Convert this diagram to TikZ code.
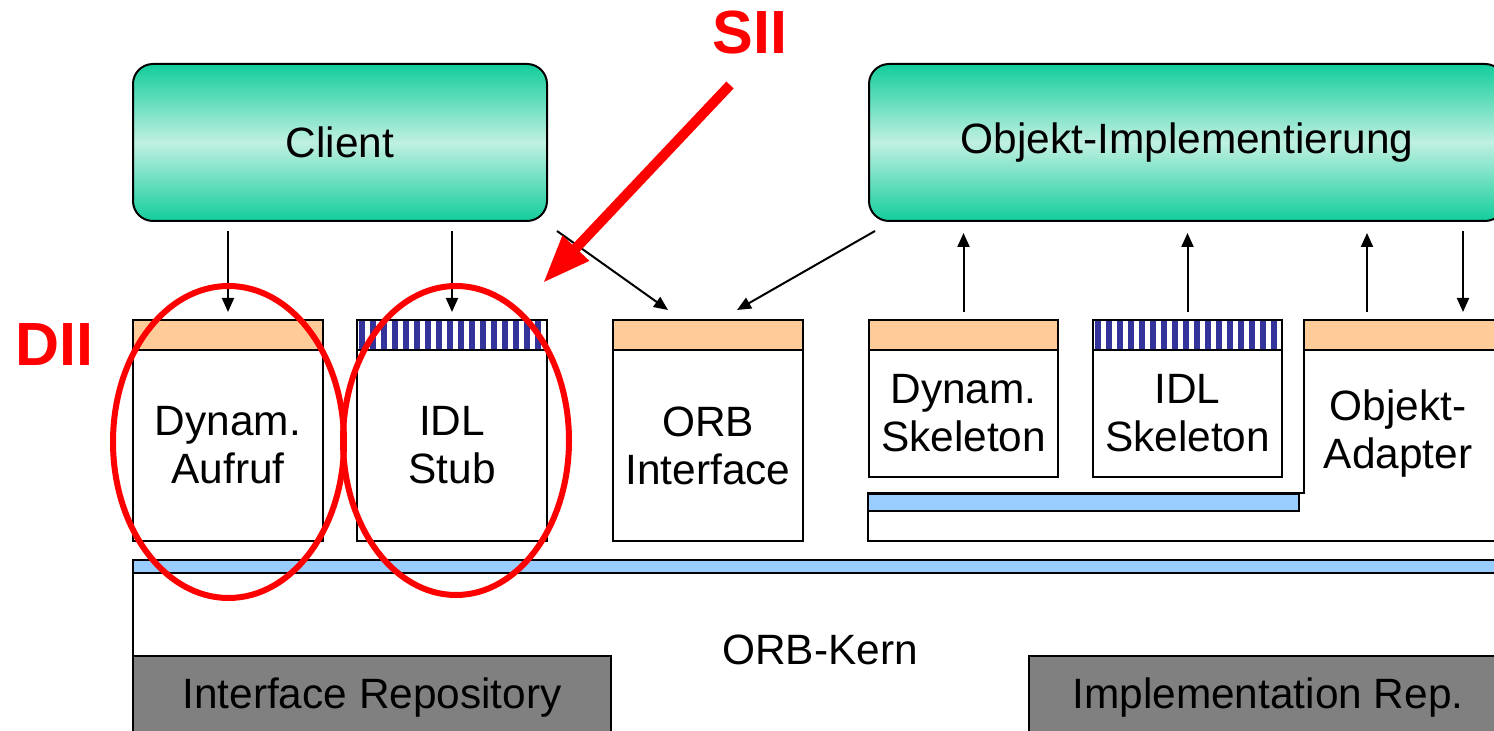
\documentclass[tikz,border=0pt]{standalone}
\usepackage{fontspec}
\setmainfont{Liberation Sans}
\usetikzlibrary{arrows.meta,calc}

\definecolor{tealdark}{RGB}{18,205,155}
\definecolor{teallight}{RGB}{192,240,226}
\definecolor{hdrorange}{RGB}{255,204,153}
\definecolor{barblue}{RGB}{153,204,255}
\definecolor{stripeblue}{RGB}{51,51,153}
\definecolor{repgray}{RGB}{128,128,128}
\definecolor{annred}{RGB}{255,0,0}

\newcommand{\lblfont}{\fontsize{21.2pt}{24pt}\selectfont}
\newcommand{\annfont}{\fontsize{30.5pt}{32pt}\selectfont\bfseries}

\tikzset{
  wh/.style 2 args={minimum width=#1*0.5pt, minimum height=#2*0.5pt},
  blk/.style={draw=black, line width=1pt, inner sep=0pt, outer sep=0pt,
              anchor=north west, align=center, font=\lblfont},
  appbox/.style={blk, rounded corners=10pt, top color=tealdark,
                 bottom color=tealdark, middle color=teallight},
  hdr/.style={blk, fill=hdrorange},
  stripehdr/.style={blk, fill=white},
  bodybox/.style={blk, fill=white},
  bar/.style={blk, fill=barblue},
  rep/.style={blk, fill=repgray},
  txt/.style={inner sep=0pt, align=center, font=\lblfont},
  arr/.style={draw=black, line width=1pt, -{Triangle[length=7pt,width=6pt]}},
  ann/.style={inner sep=0pt, text=annred, font=\annfont},
  ring/.style={draw=annred, line width=3pt},
  bigarrow/.style={draw=annred, line width=5pt, -{Triangle[length=24pt,width=17pt]}}
}

\begin{document}
\begin{tikzpicture}[x=0.5pt,y=-0.5pt]
\useasboundingbox (0,0) rectangle (1494,731);
\clip (0,0) rectangle (1494,731);

% application layer
\node[appbox, wh={414}{157}] (client) at (133,64) {Client};
\node[appbox, wh={636}{157}] (impl) at (869,64) {Objekt-Implementierung};

% client side interfaces
\node[hdr, wh={190}{30}] (aufrufh) at (133,320) {};
\node[bodybox, wh={190}{191}] (aufruf) at (133,350) {Dynam.\\Aufruf};

\node[stripehdr, wh={190}{30}] (stubh) at (357,320) {};
\begin{scope}
  \clip (stubh.north west) rectangle (stubh.south east);
  \foreach \i in {0,...,17} \fill[stripeblue] ({359+11*\i},320) rectangle ++(6,30);
\end{scope}
\draw[line width=1pt] (stubh.north west) rectangle (stubh.south east);
\node[bodybox, wh={190}{191}] (stub) at (357,350) {IDL\\Stub};

\node[hdr, wh={190}{30}] (orbh) at (613,320) {};
\node[bodybox, wh={190}{191}] (orbif) at (613,350) {ORB\\Interface};

% server side interfaces
\draw[line width=1pt, fill=white] (1304,350) -- (1304,493) -- (868,493) -- (868,541)
  -- (1510,541) -- (1510,350);
\node[bar, wh={431}{17}] (sklbar) at (868,494) {};
\node[txt] (adapt) at (1398,434) {Objekt-\\Adapter};

\node[hdr, wh={189}{30}] (dsklh) at (869,320) {};
\node[bodybox, wh={189}{127}] (dskl) at (869,350) {Dynam.\\Skeleton};

\node[stripehdr, wh={189}{30}] (isklh) at (1093,320) {};
\begin{scope}
  \clip (isklh.north west) rectangle (isklh.south east);
  \foreach \i in {0,...,17} \fill[stripeblue] ({1095+11*\i},320) rectangle ++(6,30);
\end{scope}
\draw[line width=1pt] (isklh.north west) rectangle (isklh.south east);
\node[bodybox, wh={189}{127}] (iskl) at (1093,350) {IDL\\Skeleton};

\node[hdr, wh={206}{30}] (adapth) at (1304,320) {};

% ORB core
\node[bar, wh={1380}{13}] (corebar) at (133,560) {};
\node[bodybox, wh={1380}{190}] (core) at (133,573) {};
\node[txt] (kern) at (820,650) {ORB-Kern};
\node[rep, wh={478}{84}] (ifrep) at (133,656) {Interface Repository};
\node[rep, wh={478}{84}] (imprep) at (1029,656) {Implementation Rep.};

% calls
\draw[arr, shorten <=5pt, shorten >=4pt] (client.south -| aufrufh.north) -- (aufrufh.north);
\draw[arr, shorten <=5pt, shorten >=4pt] (client.south -| stubh.north) -- (stubh.north);
\draw[arr] ([shift={(10,10)}]client.south east) -- ([shift={(-40,-10)}]orbh.north);
\draw[arr] ([shift={(6,10)}]impl.south west) -- ([shift={(29,-10)}]orbh.north);
\draw[arr, shorten <=4pt, shorten >=6pt] (dsklh.north) -- (dsklh.north |- impl.south);
\draw[arr, shorten <=4pt, shorten >=6pt] (isklh.north) -- (isklh.north |- impl.south);
\draw[arr, shorten <=4pt, shorten >=6pt] ([xshift=-20pt]adapth.north) -- ([xshift=-20pt]adapth.north |- impl.south);
\draw[arr, shorten <=5pt, shorten >=4pt] ([xshift=28pt]adapth.north |- impl.south) -- ([xshift=28pt]adapth.north);

% annotations
\draw[ring] (228.5,442) ellipse [x radius=57.75pt, y radius=78pt];
\draw[ring] (456,440.5) ellipse [x radius=56.5pt, y radius=77.25pt];
\node[ann] (sii) at (750,33) {SII};
\node[ann] (dii) at (54,345) {DII};
\coordinate (siitail) at (730,85);
\coordinate (siitip) at (543,283);
\draw[bigarrow] (siitail) -- (siitip);
\end{tikzpicture}
\end{document}
